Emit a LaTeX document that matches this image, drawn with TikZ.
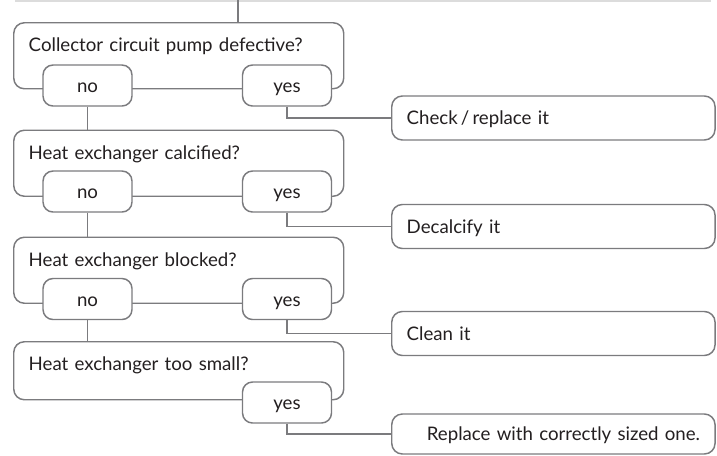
\documentclass[tikz,border=0pt]{standalone}
\usepackage{fontspec}
\setmainfont{Lato}
\usetikzlibrary{calc,positioning}
\definecolor{FlowInk}{HTML}{231F20}
\definecolor{FlowLine}{HTML}{7B7B7E}
\definecolor{FlowRule}{HTML}{DCDCDC}
\tikzset{
  every node/.style={font=\fontsize{14}{17}\selectfont, text=FlowInk},
  question/.style={draw=FlowLine, line width=1.1pt, rounded corners=8pt, anchor=north west,
    text width=225pt, align=left, inner xsep=11.25pt, inner ysep=0pt,
    text height=21.75pt, text depth=27.75pt},
  answer/.style={draw=FlowLine, line width=1.1pt, rounded corners=7.5pt, fill=white,
    minimum width=66.75pt, minimum height=30.75pt, inner sep=0pt,
    text height=11pt, text depth=0pt},
  action/.style={draw=FlowLine, line width=1.1pt, rounded corners=8pt, fill=white, anchor=west,
    text width=220pt, align=left, inner xsep=11.25pt, inner ysep=0pt,
    minimum height=33pt, text height=13pt, text depth=3pt},
  link/.style={draw=FlowLine, line width=1.1pt},
}

\begin{document}
\begin{tikzpicture}[x=0.75pt,y=-0.75pt]
  \useasboundingbox (0,0) rectangle (717,455);
  % faint rule at the top edge
  \draw[FlowRule, line width=1.5pt] (15,0.6) -- (711,0.6);
  \coordinate (entry) at (238,0);
  % Row 1: pump
  \begin{scope}[shift={(0,22)}]
    \node[question] (q1) at (13,0) {Collector circuit pump defective?};
    \node[answer] (no1) at (87.5,63.5) {no};
    \node[answer] (yes1) at (287,63.5) {yes};
    \node[action] (act1) at (391,96) {Check\,/\,replace it};
  \end{scope}
  % Row 2: calcified
  \begin{scope}[shift={(0,129.5)}]
    \node[question] (q2) at (13,0) {Heat exchanger calcified?};
    \node[answer] (no2) at (87.5,62) {no};
    \node[answer] (yes2) at (287,62) {yes};
    \node[action] (act2) at (391,97) {Decalcify it};
  \end{scope}
  % Row 3: blocked
  \begin{scope}[shift={(0,236.5)}]
    \node[question] (q3) at (13,0) {Heat exchanger blocked?};
    \node[answer] (no3) at (87.5,62.5) {no};
    \node[answer] (yes3) at (287,62.5) {yes};
    \node[action] (act3) at (391,97) {Clean it};
  \end{scope}
  % Row 4: too small, no "no" branch
  \begin{scope}[shift={(0,341)}]
    \node[question, text depth=21.75pt] (q4) at (13,0) {Heat exchanger too small?};
    \node[answer] (yes4) at (287,61.5) {yes};
    \node[action, align=right, minimum height=30pt] (act4) at (391,93) {Replace with correctly sized one.};
  \end{scope}
  % connectors
  \draw[link] (entry) -- (entry |- q1.north);
  \draw[link] (no1.south) -- (no1.south |- q2.north);
  \draw[link] (no2.south) -- (no2.south |- q3.north);
  \draw[link] (no3.south) -- (no3.south |- q4.north);
  \draw[link] (yes1.south) |- (act1.west);
  \draw[link] (yes2.south) |- (act2.west);
  \draw[link] (yes3.south) |- (act3.west);
  \draw[link] (yes4.south) |- (act4.west);
\end{tikzpicture}
\end{document}
